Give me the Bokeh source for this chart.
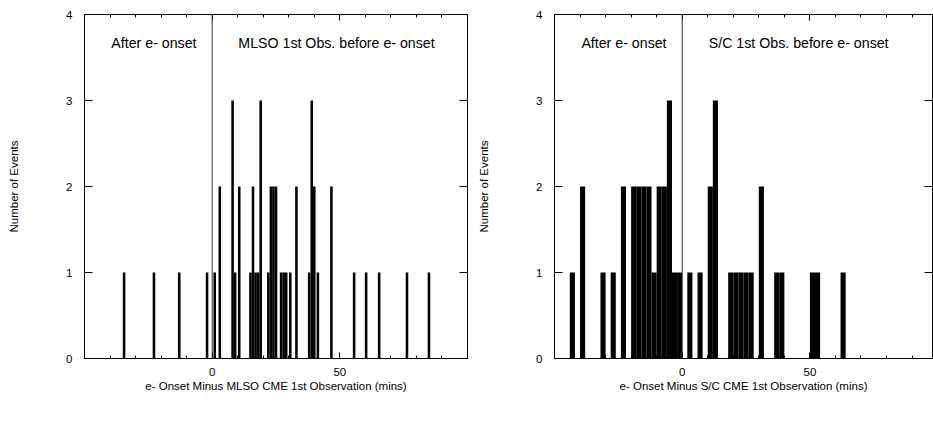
from bokeh.plotting import figure
from bokeh.layouts import row
from bokeh.models import Range1d, FixedTicker, LinearAxis, Span, Label
from bokeh.embed import file_html
from bokeh.resources import INLINE

# ---------------- data ----------------
# Left panel: e- onset minus MLSO CME first observation (minutes), 1-min bins
mlso_minutes = [-34.5, -22.8, -12.9, -2.0, 1.0, 3.0, 8.0, 9.0, 10.6,
                15, 16, 17, 18, 19, 22, 23, 24, 25, 27, 28, 29, 30.6, 33,
                38, 39, 40, 41.4, 46.7, 55.6, 60.3, 65.4, 76.3, 84.9]
mlso_counts = [1, 1, 1, 1, 1, 2, 3, 1, 2,
               1, 2, 1, 1, 3, 1, 2, 2, 2, 1, 1, 1, 1, 2,
               1, 3, 2, 1, 2, 1, 1, 1, 1, 1]

# Right panel: e- onset minus S/C CME first observation (minutes), 2-min bins
sc_minutes = [-43, -39, -31, -27, -23, -19, -17, -15, -13, -11, -9, -7, -5, -3, -1,
              3, 7, 11, 13, 19, 21, 23, 25, 27, 31, 37, 39, 51, 53, 63]
sc_counts = [1, 2, 1, 1, 2, 2, 2, 2, 2, 1, 2, 2, 3, 1, 1,
             1, 1, 2, 3, 1, 1, 1, 1, 1, 2, 1, 1, 1, 1, 1]

x_major = [0, 50]
x_minor = [-40, -30, -20, -10, 10, 20, 30, 40, 60, 70, 80, 90]
y_ticks = [0, 1, 2, 3, 4]

FONT = "Liberation Sans"


def hide_labels(ax):
    ax.major_label_text_font_size = "0px"
    ax.major_label_text_color = None
    ax.major_label_standoff = 0


def style_x(ax, labels=True):
    ax.ticker = FixedTicker(ticks=x_major, minor_ticks=x_minor)
    ax.major_tick_in = 6
    ax.major_tick_out = 0
    ax.minor_tick_in = 3
    ax.minor_tick_out = 0
    ax.axis_line_color = "black"
    ax.major_tick_line_color = "black"
    ax.minor_tick_line_color = "black"
    if labels:
        ax.major_label_text_font = FONT
        ax.major_label_text_font_size = "11.5px"
        ax.major_label_text_color = "black"
        ax.major_label_standoff = 9
    else:
        hide_labels(ax)


def style_y(ax, labels=True):
    ax.ticker = FixedTicker(ticks=y_ticks)
    ax.major_tick_in = 8
    ax.major_tick_out = 0
    ax.minor_tick_line_color = None
    ax.axis_line_color = "black"
    ax.major_tick_line_color = "black"
    if labels:
        ax.major_label_text_font = FONT
        ax.major_label_text_font_size = "11.5px"
        ax.major_label_text_color = "black"
        ax.major_label_standoff = 12
    else:
        hide_labels(ax)


def panel(minutes, counts, bar_w, xmax, width, min_left, min_right, xtitle,
          left_text, left_x, right_text, right_x):
    p = figure(width=width, height=403,
               x_range=Range1d(-50, xmax), y_range=Range1d(0, 4),
               output_backend="svg", toolbar_location=None,
               min_border_left=min_left, min_border_right=min_right,
               min_border_top=14, min_border_bottom=45,
               background_fill_color="white", border_fill_color="white")
    p.grid.visible = False
    p.outline_line_color = "black"
    p.outline_line_width = 1

    p.vbar(x=minutes, top=counts, width=bar_w, bottom=0,
           fill_color="black", line_color=None)

    style_x(p.xaxis[0], True)
    style_y(p.yaxis[0], True)
    p.xaxis.axis_label = xtitle
    p.yaxis.axis_label = "Number of Events"
    for ax in (p.xaxis[0], p.yaxis[0]):
        ax.axis_label_text_font = FONT
        ax.axis_label_text_font_size = "11.5px"
        ax.axis_label_text_font_style = "normal"
        ax.axis_label_text_color = "black"
    p.xaxis.axis_label_standoff = 1
    p.yaxis.axis_label_standoff = 43

    top = LinearAxis()
    style_x(top, False)
    p.add_layout(top, "above")
    right = LinearAxis()
    style_y(right, False)
    p.add_layout(right, "right")

    p.add_layout(Span(location=0, dimension="height",
                      line_color="#333333", line_width=1))

    for txt, xx in ((left_text, left_x), (right_text, right_x)):
        p.add_layout(Label(x=xx, y=3.667, text=txt, text_align="center",
                           text_baseline="alphabetic", text_font=FONT,
                           text_font_size="14.2px", text_color="black"))
    return p


p1 = panel(mlso_minutes, mlso_counts, 1, 100, 475, 84, 8,
           "e- Onset Minus MLSO CME 1st Observation (mins)",
           "After e- onset", -22.8, "MLSO 1st Obs. before e- onset", 48.7)
p2 = panel(sc_minutes, sc_counts, 2, 98.0, 458, 79, 1,
           "e- Onset Minus S/C CME 1st Observation (mins)",
           "After e- onset", -22.8, "S/C 1st Obs. before e- onset", 45.6)

layout = row(p1, p2)

with open("out.html", "w") as f:
    f.write(file_html(layout, INLINE))
